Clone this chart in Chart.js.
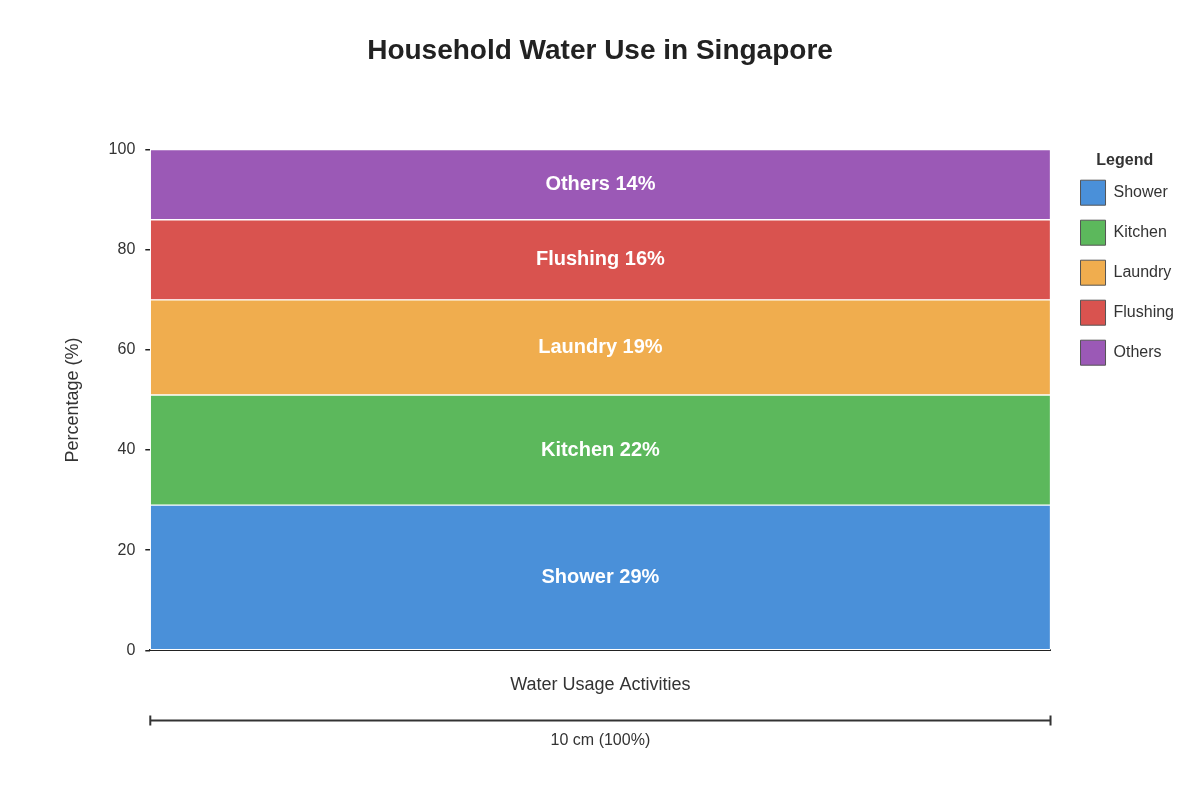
<!DOCTYPE html>
<html>
<head>
<meta charset="utf-8">
<title>Household Water Use in Singapore</title>
<script src="https://cdn.jsdelivr.net/npm/chart.js@4"></script>
<style>
  html, body { margin: 0; padding: 0; background: #fff; }
  #wrap { width: 1200px; height: 800px; }
</style>
</head>
<body>
<div id="wrap"><canvas id="chart"></canvas></div>
<script>
const categories = ['Water Usage'];
const activities = ['Shower', 'Kitchen', 'Laundry', 'Flushing', 'Others'];
const shares = [29, 22, 19, 16, 14];
const colors = ['#4a90d9', '#5cb85c', '#f0ad4e', '#d9534f', '#9b59b6'];
const yTicks = [0, 20, 40, 60, 80, 100];

const FONT = "'Liberation Sans', Arial, sans-serif";

// labels in the middle of each stacked segment
const segmentLabels = {
    id: 'segmentLabels',
    afterDatasetsDraw(chart) {
        const ctx = chart.ctx;
        ctx.save();
        ctx.fillStyle = '#fff';
        ctx.font = 'bold 20px ' + FONT;
        ctx.textAlign = 'center';
        ctx.textBaseline = 'middle';
        chart.data.datasets.forEach(function (ds, i) {
            const bar = chart.getDatasetMeta(i).data[0];
            if (!bar) return;
            const yMid = (bar.y + bar.base) / 2;
            ctx.fillText(ds.label + ' ' + ds.data[0] + '%', bar.x, yMid);
        });
        ctx.restore();
    }
};

// scale bar under the x axis title
const scaleBar = {
    id: 'scaleBar',
    afterDraw(chart) {
        const a = chart.chartArea;
        const ctx = chart.ctx;
        const y = a.bottom + 70;
        ctx.save();
        ctx.strokeStyle = '#333';
        ctx.lineWidth = 2;
        ctx.beginPath();
        ctx.moveTo(a.left, y);
        ctx.lineTo(a.right, y);
        ctx.moveTo(a.left, y - 5);
        ctx.lineTo(a.left, y + 5);
        ctx.moveTo(a.right, y - 5);
        ctx.lineTo(a.right, y + 5);
        ctx.stroke();
        ctx.fillStyle = '#333';
        ctx.font = '16px ' + FONT;
        ctx.textAlign = 'center';
        ctx.textBaseline = 'middle';
        ctx.fillText('10 cm (100%)', (a.left + a.right) / 2, y + 20);
        ctx.restore();
    }
};

const datasets = activities.map(function (name, i) {
    return {
        label: name,
        data: [shares[i]],
        backgroundColor: colors[i],
        borderColor: '#fff',
        borderWidth: 1,
        borderSkipped: false,
        barPercentage: 1.0,
        categoryPercentage: 1.0
    };
});

new Chart(document.getElementById('chart'), {
    type: 'bar',
    data: { labels: categories, datasets: datasets },
    plugins: [segmentLabels, scaleBar],
    options: {
        responsive: true,
        maintainAspectRatio: false,
        animation: false,
        layout: { padding: { top: 0, left: 16, right: 16, bottom: 104 } },
        plugins: {
            title: {
                display: true,
                text: 'Household Water Use in Singapore',
                color: '#222',
                font: { family: FONT, size: 28, weight: 'bold' },
                padding: { top: 34, bottom: 82 }
            },
            legend: {
                display: true,
                position: 'right',
                align: 'start',
                title: {
                    display: true,
                    text: 'Legend',
                    color: '#333',
                    font: { family: FONT, size: 16, weight: 'bold' },
                    padding: { top: 153, bottom: -7 }
                },
                labels: {
                    boxWidth: 25,
                    boxHeight: 25,
                    padding: 15,
                    color: '#333',
                    font: { family: FONT, size: 16 },
                    generateLabels: function (chart) {
                        const items = Chart.defaults.plugins.legend.labels.generateLabels(chart);
                        items.forEach(function (it) {
                            it.strokeStyle = '#555';
                            it.lineWidth = 1;
                        });
                        return items;
                    }
                }
            },
            tooltip: { enabled: false }
        },
        scales: {
            x: {
                stacked: true,
                grid: { display: false },
                border: { display: true, color: '#222', width: 2 },
                ticks: { display: false },
                title: {
                    display: true,
                    text: 'Water Usage Activities',
                    color: '#333',
                    font: { family: FONT, size: 18 },
                    padding: { top: 16, bottom: 0 }
                }
            },
            y: {
                stacked: true,
                min: 0,
                max: 100,
                afterBuildTicks: function (axis) {
                    axis.ticks = yTicks.map(function (v) { return { value: v }; });
                },
                grid: { drawOnChartArea: false, drawTicks: true, tickLength: 5, color: '#222', lineWidth: 1.5 },
                border: { display: false },
                ticks: {
                    color: '#333',
                    padding: 10,
                    font: { family: FONT, size: 16 }
                },
                title: {
                    display: true,
                    text: 'Percentage (%)',
                    color: '#333',
                    font: { family: FONT, size: 18 },
                    padding: { top: 46, bottom: 15 }
                }
            },
            // empty right-hand axis, only keeps a gap between plot and legend
            gap: {
                type: 'linear',
                axis: 'y',
                position: 'right',
                display: true,
                grid: { display: false },
                border: { display: false },
                ticks: { display: false },
                afterFit: function (scale) { scale.width = 15; }
            }
        }
    }
});
</script>
</body>
</html>
